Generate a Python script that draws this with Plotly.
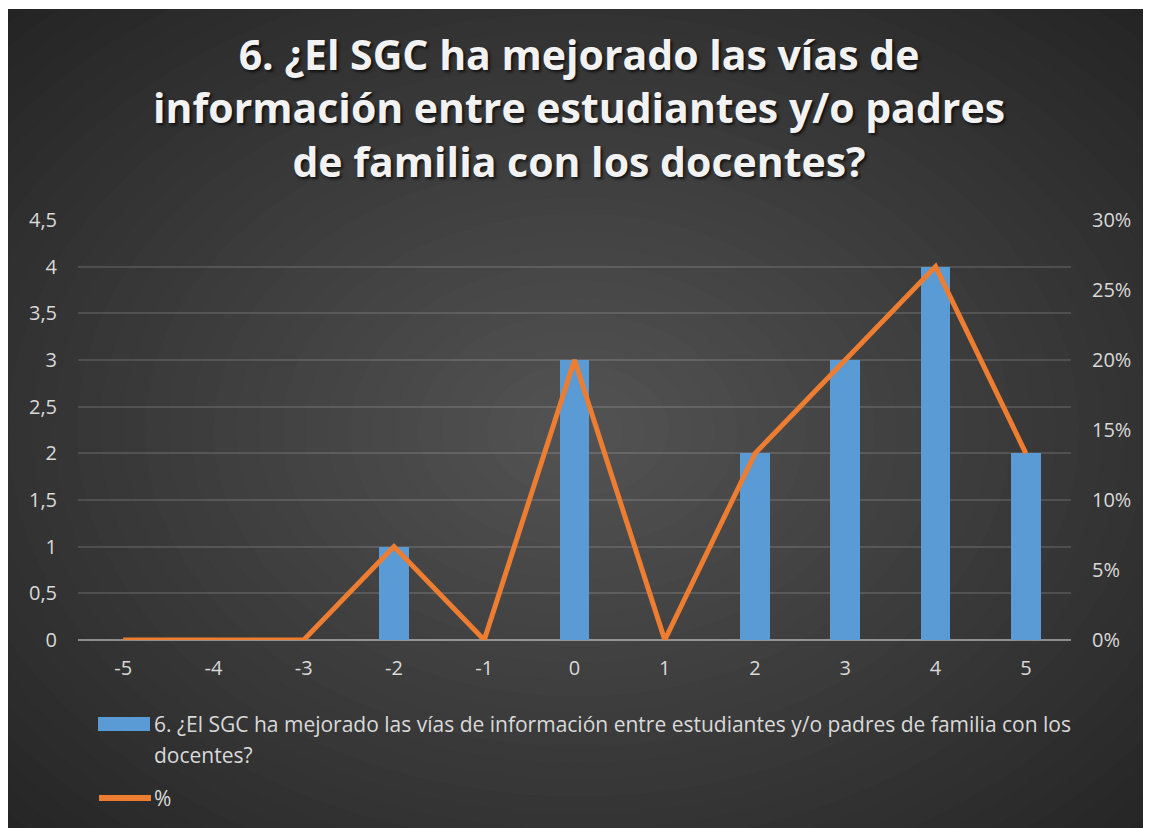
import plotly.graph_objects as go

categories = ["-5", "-4", "-3", "-2", "-1", "0", "1", "2", "3", "4", "5"]
counts = [0, 0, 0, 1, 0, 3, 0, 2, 3, 4, 2]
percents = [0, 0, 0, 0.0667, 0, 0.2, 0, 0.1333, 0.2, 0.2667, 0.1333]
left_ticks = [0, 0.5, 1, 1.5, 2, 2.5, 3, 3.5, 4, 4.5]
right_ticks = [0, 0.05, 0.10, 0.15, 0.20, 0.25, 0.30]

title_text = ("6. ¿El SGC ha mejorado las vías de<br>"
              "información entre estudiantes y/o padres<br>"
              "de familia con los docentes?")
series_name = ("6. ¿El SGC ha mejorado las vías de información entre "
               "estudiantes y/o padres de familia con los docentes?")
legend_line1 = ("6. ¿El SGC ha mejorado las vías de información entre "
                "estudiantes y/o padres de familia con los")
legend_line2 = "docentes?"
line_name = "%"

FIG_W, FIG_H = 1151, 828
L, R, T, B = 70, 1063, 212, 632
PW, PH = R - L, B - T


def px_x(px):
    return (px - L) / PW


def px_y(py):
    return (B - py) / PH


BLUE = "#5b9bd5"
ORANGE = "#ed7d31"
TXT = "#d9d9d9"
FONT = "Open Sans"

fig = go.Figure()
fig.add_trace(go.Bar(
    x=categories, y=counts, name=series_name,
    marker=dict(color=BLUE, line=dict(width=0)),
    width=0.33, showlegend=False,
))
fig.add_trace(go.Scatter(
    x=categories, y=percents, name=line_name, yaxis="y2",
    mode="lines", line=dict(color=ORANGE, width=5),
    showlegend=False,
))

shapes = []
# radial gradient approximation
cx, cy = 570, 422
ax, ay = 820, 600
N = 36
outer = (36, 36, 36)
inner = (84, 84, 84)
for i in range(N):
    f = 1 - i / N
    c = tuple(int(round(inner[k] + (outer[k] - inner[k]) * f)) for k in range(3))
    shapes.append(dict(type="circle", xref="paper", yref="paper", layer="below",
                       x0=px_x(cx - ax * f), x1=px_x(cx + ax * f),
                       y0=px_y(cy + ay * f), y1=px_y(cy - ay * f),
                       fillcolor="rgb(%d,%d,%d)" % c, line=dict(width=0)))
# thin white strip at the top
shapes.append(dict(type="rect", xref="paper", yref="paper", layer="below",
                   x0=px_x(-20), x1=px_x(FIG_W + 20), y0=px_y(1), y1=px_y(-20),
                   fillcolor="white", line=dict(width=0)))
# legend symbols
shapes.append(dict(type="rect", xref="paper", yref="paper", layer="above",
                   x0=px_x(90), x1=px_x(142), y0=px_y(723), y1=px_y(709),
                   fillcolor=BLUE, line=dict(width=0)))
shapes.append(dict(type="line", xref="paper", yref="paper", layer="above",
                   x0=px_x(91), x1=px_x(143), y0=px_y(790), y1=px_y(790),
                   line=dict(color=ORANGE, width=6)))

annotations = [
    dict(xref="paper", yref="paper", x=px_x(144), y=px_y(716), xanchor="left",
         yanchor="middle", text=legend_line1, showarrow=False,
         font=dict(family=FONT, size=21, color=TXT)),
    dict(xref="paper", yref="paper", x=px_x(144), y=px_y(747), xanchor="left",
         yanchor="middle", text=legend_line2, showarrow=False,
         font=dict(family=FONT, size=21, color=TXT)),
    dict(xref="paper", yref="paper", x=px_x(144), y=px_y(790), xanchor="left",
         yanchor="middle", text=line_name, showarrow=False,
         font=dict(family=FONT, size=21, color=TXT)),
]

fig.update_layout(
    width=FIG_W, height=FIG_H,
    margin=dict(l=L, r=FIG_W - R, t=T, b=FIG_H - B, pad=0),
    paper_bgcolor="#242424", plot_bgcolor="rgba(0,0,0,0)",
    separators=", ",
    title=dict(text=title_text, x=571 / FIG_W, y=1 - 62 / FIG_H,
               xanchor="center", yanchor="middle", xref="container", yref="container",
               font=dict(family=FONT, size=41, color="#f2f2f2", weight="bold",
                         shadow="2px 2px 3px rgba(0,0,0,0.7)")),
    xaxis=dict(type="category", showgrid=False, zeroline=False, showline=False,
               ticks="", ticklabelstandoff=14,
               tickfont=dict(family=FONT, size=20, color=TXT)),
    yaxis=dict(range=[0, 4.5], tickvals=left_ticks, showgrid=True,
               gridcolor="rgba(255,255,255,0.13)", gridwidth=1.5,
               zeroline=True, zerolinecolor="rgba(217,217,217,0.55)", zerolinewidth=2,
               showline=False, ticks="", ticklabelstandoff=20,
               tickfont=dict(family=FONT, size=20, color=TXT)),
    yaxis2=dict(range=[0, 0.30], tickvals=right_ticks, tickformat=".0%",
                overlaying="y", side="right", showgrid=False, zeroline=False,
                showline=False, ticks="", ticklabelstandoff=20,
                tickfont=dict(family=FONT, size=20, color=TXT)),
    shapes=shapes,
    annotations=annotations,
    showlegend=False,
    bargap=0,
)

fig.write_html("out.html")
